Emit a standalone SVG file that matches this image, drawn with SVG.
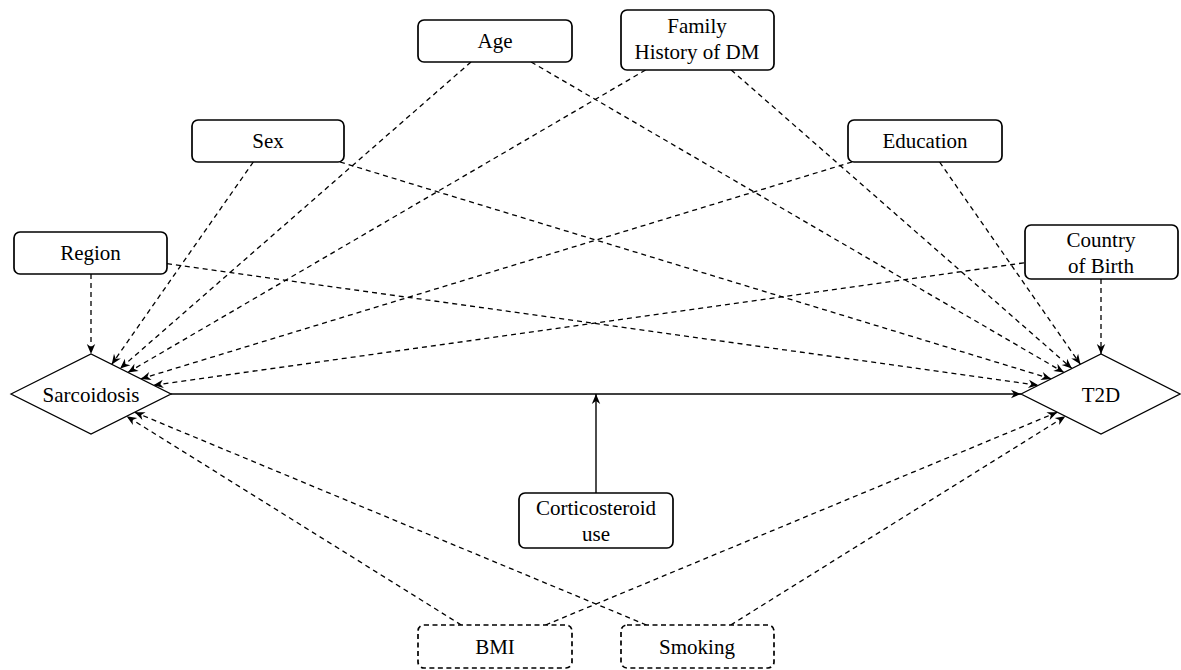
<svg xmlns="http://www.w3.org/2000/svg" width="1181" height="670" viewBox="0 0 1181 670">
<style>
.box{fill:#fff;stroke:#000;stroke-width:1.7}
.dbox{fill:#fff;stroke:#000;stroke-width:1.7;stroke-dasharray:5 3.5}
.dia{fill:#fff;stroke:#000;stroke-width:1.3}
.t{font-size:21px;fill:#000;text-anchor:middle}
.e{fill:none;stroke:#000;stroke-width:1.3;stroke-dasharray:5 4;marker-end:url(#ah)}
.s{fill:none;stroke:#000;stroke-width:1.4;marker-end:url(#ah)}
</style>
<defs>
<marker id="ah" markerUnits="userSpaceOnUse" viewBox="-11 -5 12 10" refX="0" refY="0" markerWidth="12" markerHeight="10" orient="auto">
<path d="M0,0 L-10,-4.2 L-7,0 L-10,4.2 Z" fill="#000" stroke="none"/>
</marker>
</defs>
<rect width="1181" height="670" fill="#fff"/>
<g id="connectors">
<line class="e" x1="91" y1="274" x2="91" y2="354"/>
<line class="e" x1="167" y1="263.7" x2="1038.4" y2="385.3"/>
<line class="e" x1="253.3" y1="162" x2="111.7" y2="364.4"/>
<line class="e" x1="340" y1="162" x2="1051.2" y2="378.9"/>
<line class="e" x1="471" y1="62" x2="120.1" y2="368.6"/>
<line class="e" x1="531.1" y1="62" x2="1064" y2="372.5"/>
<line class="e" x1="645.6" y1="70" x2="127.9" y2="372.4"/>
<line class="e" x1="731.2" y1="70" x2="1071.9" y2="368.5"/>
<line class="e" x1="852" y1="162" x2="140.8" y2="378.9"/>
<line class="e" x1="939.6" y1="162" x2="1080.4" y2="364.3"/>
<line class="e" x1="1024" y1="262.8" x2="153.4" y2="385.2"/>
<line class="e" x1="1101" y1="279" x2="1101" y2="354"/>
<line class="e" x1="461.3" y1="625" x2="126.6" y2="416.2"/>
<line class="e" x1="545.5" y1="625" x2="1057.3" y2="412.2"/>
<line class="e" x1="646.5" y1="625" x2="134.7" y2="412.2"/>
<line class="e" x1="730.7" y1="625" x2="1065.4" y2="416.2"/>
<line class="s" x1="171" y1="394" x2="1021" y2="394"/>
<line class="s" x1="596" y1="493" x2="596" y2="394"/>
</g>
<g font-family="Liberation Serif, Times New Roman, DejaVu Serif, serif">
<g id="region"><rect class="box" x="14" y="232" width="153" height="42" rx="6"/><text class="t" x="90.5" y="260">Region</text></g>
<g id="sex"><rect class="box" x="192" y="120" width="152" height="42" rx="6"/><text class="t" x="268" y="148">Sex</text></g>
<g id="age"><rect class="box" x="418" y="20" width="154" height="42" rx="6"/><text class="t" x="495" y="47.5">Age</text></g>
<g id="family"><rect class="box" x="621" y="10" width="153" height="60" rx="6"/><text class="t" x="697" y="32.5">Family</text><text class="t" x="697" y="59">History of DM</text></g>
<g id="education"><rect class="box" x="848" y="120" width="154" height="42" rx="6"/><text class="t" x="925" y="148">Education</text></g>
<g id="country"><rect class="box" x="1025" y="225" width="153" height="54" rx="6"/><text class="t" x="1101" y="247">Country</text><text class="t" x="1101" y="273">of Birth</text></g>
<g id="sarcoidosis"><polygon class="dia" points="11,394 91,354 171,394 91,434"/><text class="t" x="91" y="401.5">Sarcoidosis</text></g>
<g id="t2d"><polygon class="dia" points="1021,394 1101,354 1180,394 1101,434"/><text class="t" x="1101" y="401.5">T2D</text></g>
<g id="corticosteroid"><rect class="box" x="519" y="493" width="154" height="55" rx="6"/><text class="t" x="596" y="515">Corticosteroid</text><text class="t" x="596" y="540.5">use</text></g>
<g id="bmi"><rect class="dbox" x="418" y="625" width="154" height="43" rx="6"/><text class="t" x="495" y="653.5">BMI</text></g>
<g id="smoking"><rect class="dbox" x="621" y="625" width="153" height="43" rx="6"/><text class="t" x="697" y="653.5">Smoking</text></g>
</g>
</svg>
